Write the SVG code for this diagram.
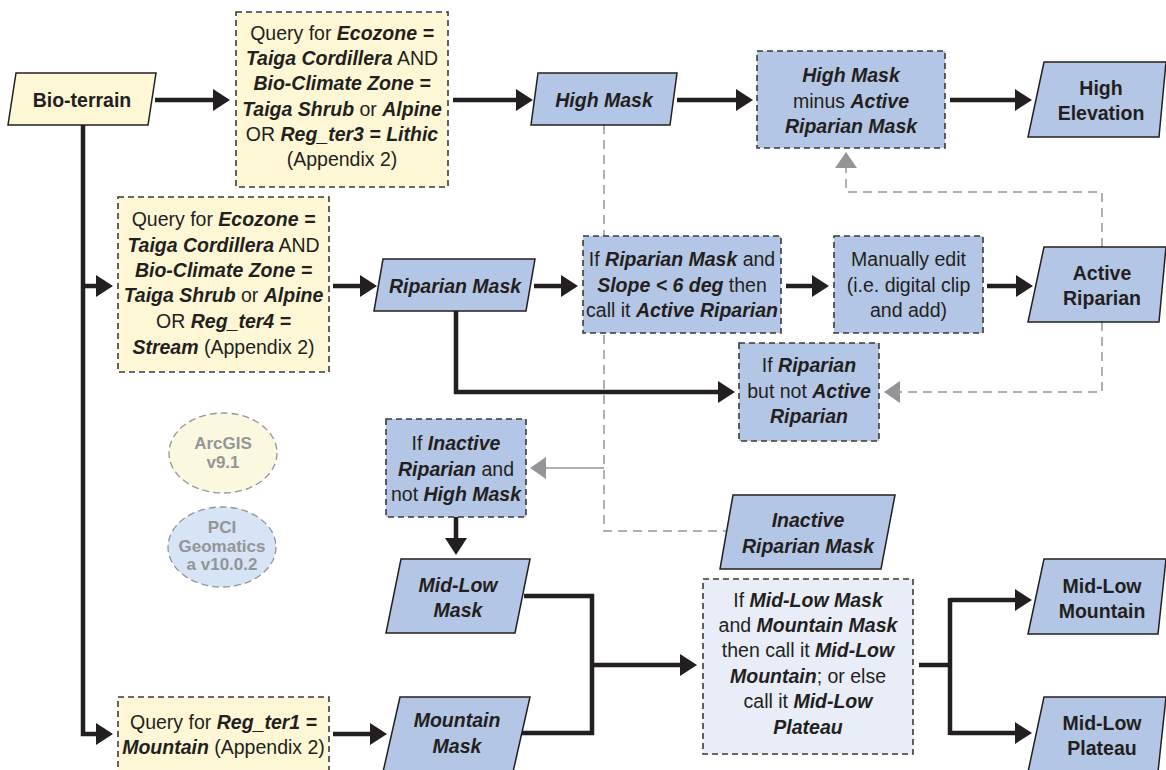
<svg xmlns="http://www.w3.org/2000/svg" width="1166" height="770" viewBox="0 0 1166 770">
<style>
.t{font-family:"Liberation Sans",Arial,sans-serif;font-size:19.5px;fill:#231f20;text-anchor:middle}
.b{font-weight:bold}
.bi{font-weight:bold;font-style:italic}
.par{stroke:#231f20;stroke-width:1.5}
.blue{fill:#b4c6e5}
.yel{fill:#fdf7d5}
.lav{fill:#e8edf7}
.box{stroke:#3a3a3a;stroke-width:1.6;stroke-dasharray:6 4}
.conn{fill:none;stroke:#231f20;stroke-width:4.5;stroke-linejoin:miter}
.gdash{fill:none;stroke:#939598;stroke-width:1.5;stroke-dasharray:9 6}
.gsolid{fill:none;stroke:#939598;stroke-width:1.5}
.leg{font-family:"Liberation Sans",Arial,sans-serif;font-size:17px;font-weight:bold;fill:#939598;text-anchor:middle}
.ell{stroke:#939598;stroke-width:1.3;stroke-dasharray:7 4}
</style>
<defs>
<marker id="ah" markerUnits="userSpaceOnUse" viewBox="0 0 17 22" markerWidth="17" markerHeight="22" refX="2" refY="11" orient="auto"><path d="M0,0 L17,11 L0,22 z" fill="#231f20"/></marker>
<marker id="ag" markerUnits="userSpaceOnUse" viewBox="0 0 16 22" markerWidth="16" markerHeight="22" refX="2" refY="11" orient="auto"><path d="M0,0 L16,11 L0,22 z" fill="#939598"/></marker>
</defs>
<rect width="1166" height="770" fill="#ffffff"/>

<g id="connectors">
<path class="gdash" d="M604,125 V531 H727"/>
<path class="gsolid" d="M604,468 H544" marker-end="url(#ag)"/>
<path class="gdash" d="M1102,322 V392 H898" marker-end="url(#ag)"/>
<path class="gdash" d="M1102,247 V192 H846 V166" marker-end="url(#ag)"/>
<path class="conn" d="M155,100 H215" marker-end="url(#ah)"/>
<path class="conn" d="M453,100 H518" marker-end="url(#ah)"/>
<path class="conn" d="M677,100 H738" marker-end="url(#ah)"/>
<path class="conn" d="M950,100 H1017" marker-end="url(#ah)"/>
<path class="conn" d="M83,125 V734 H98" marker-end="url(#ah)"/>
<path class="conn" d="M83,286 H98" marker-end="url(#ah)"/>
<path class="conn" d="M333,286 H362" marker-end="url(#ah)"/>
<path class="conn" d="M534,286 H563" marker-end="url(#ah)"/>
<path class="conn" d="M786,286 H814" marker-end="url(#ah)"/>
<path class="conn" d="M987,286 H1018" marker-end="url(#ah)"/>
<path class="conn" d="M456,311 V392 H720" marker-end="url(#ah)"/>
<path class="conn" d="M456,517 V540" marker-end="url(#ah)"/>
<path class="conn" d="M333,734 H372" marker-end="url(#ah)"/>
<path class="conn" d="M524,596 H592 V733 H521"/>
<path class="conn" d="M592,665 H682" marker-end="url(#ah)"/>
<path class="conn" d="M919,665 H950"/>
<path class="conn" d="M950,598 V735"/>
<path class="conn" d="M950,600 H1017" marker-end="url(#ah)"/>
<path class="conn" d="M950,733 H1017" marker-end="url(#ah)"/>
</g>

<g id="bio-terrain">
<polygon class="par yel" points="16,73 156,73 148,125 8,125"/>
<text class="t b" x="82" y="107">Bio-terrain</text>
</g>

<g id="query-high">
<rect class="box yel" x="236" y="12" width="212" height="175"/>
<text class="t" x="342" y="40">Query for <tspan class="bi">Ecozone =</tspan></text>
<text class="t" x="342" y="65"><tspan class="bi">Taiga Cordillera</tspan> AND</text>
<text class="t" x="342" y="90"><tspan class="bi">Bio-Climate Zone =</tspan></text>
<text class="t" x="342" y="115.5"><tspan class="bi">Taiga Shrub</tspan> or <tspan class="bi">Alpine</tspan></text>
<text class="t" x="342" y="141">OR <tspan class="bi">Reg_ter3 = Lithic</tspan></text>
<text class="t" x="342" y="166">(Appendix 2)</text>
</g>

<g id="high-mask">
<polygon class="par blue" points="538,73 677,73 670,125 531,125"/>
<text class="t bi" x="604" y="107">High Mask</text>
</g>

<g id="high-minus">
<rect class="box blue" x="757" y="51" width="188" height="97"/>
<text class="t" x="851" y="82"><tspan class="bi">High Mask</tspan></text>
<text class="t" x="851" y="107.5">minus <tspan class="bi">Active</tspan></text>
<text class="t" x="851" y="133"><tspan class="bi">Riparian Mask</tspan></text>
</g>

<g id="high-elevation">
<polygon class="par blue" points="1044,62 1166,62 1159,137 1028,137"/>
<text class="t b" x="1101" y="95">High</text>
<text class="t b" x="1101" y="120">Elevation</text>
</g>

<g id="query-riparian">
<rect class="box yel" x="118" y="197" width="211" height="175"/>
<text class="t" x="223.5" y="226">Query for <tspan class="bi">Ecozone =</tspan></text>
<text class="t" x="223.5" y="252"><tspan class="bi">Taiga Cordillera</tspan> AND</text>
<text class="t" x="223.5" y="277"><tspan class="bi">Bio-Climate Zone =</tspan></text>
<text class="t" x="223.5" y="302"><tspan class="bi">Taiga Shrub</tspan> or <tspan class="bi">Alpine</tspan></text>
<text class="t" x="223.5" y="328">OR <tspan class="bi">Reg_ter4 =</tspan></text>
<text class="t" x="223.5" y="354"><tspan class="bi">Stream</tspan> (Appendix 2)</text>
</g>

<g id="riparian-mask">
<polygon class="par blue" points="383,259 535,259 526,311 374,311"/>
<text class="t bi" x="455" y="293">Riparian Mask</text>
</g>

<g id="if-riparian-slope">
<rect class="box blue" x="583" y="236" width="198" height="97"/>
<text class="t" x="682" y="266">If <tspan class="bi">Riparian Mask</tspan> and</text>
<text class="t" x="682" y="292"><tspan class="bi">Slope &lt; 6 deg</tspan> then</text>
<text class="t" x="682" y="317">call it <tspan class="bi">Active Riparian</tspan></text>
</g>

<g id="manually-edit">
<rect class="box blue" x="834" y="236" width="149" height="97"/>
<text class="t" x="908.5" y="266">Manually edit</text>
<text class="t" x="908.5" y="292">(i.e. digital clip</text>
<text class="t" x="908.5" y="317">and add)</text>
</g>

<g id="active-riparian">
<polygon class="par blue" points="1044,247 1166,247 1159,322 1028,322"/>
<text class="t b" x="1102" y="280">Active</text>
<text class="t b" x="1102" y="305">Riparian</text>
</g>

<g id="if-riparian-not-active">
<rect class="box blue" x="739" y="343" width="140" height="98"/>
<text class="t" x="809" y="372">If <tspan class="bi">Riparian</tspan></text>
<text class="t" x="809" y="398">but not <tspan class="bi">Active</tspan></text>
<text class="t" x="809" y="423"><tspan class="bi">Riparian</tspan></text>
</g>

<g id="legend-arcgis">
<ellipse class="ell" cx="223" cy="453" rx="54" ry="40" fill="#fbf8e0"/>
<text class="leg" x="223" y="449">ArcGIS</text>
<text class="leg" x="223" y="468">v9.1</text>
</g>

<g id="legend-pci">
<ellipse class="ell" cx="222" cy="547" rx="54" ry="40" fill="#d6e4f5"/>
<text class="leg" x="222" y="533">PCI</text>
<text class="leg" x="222" y="552">Geomatics</text>
<text class="leg" x="222" y="570">a v10.0.2</text>
</g>

<g id="if-inactive">
<rect class="box blue" x="386" y="419" width="140" height="98"/>
<text class="t" x="456" y="450">If <tspan class="bi">Inactive</tspan></text>
<text class="t" x="456" y="476"><tspan class="bi">Riparian</tspan> and</text>
<text class="t" x="456" y="501">not <tspan class="bi">High Mask</tspan></text>
</g>

<g id="inactive-riparian-mask">
<polygon class="par blue" points="733,495 895,495 881,569 720,569"/>
<text class="t bi" x="808" y="527">Inactive</text>
<text class="t bi" x="808" y="553">Riparian Mask</text>
</g>

<g id="mid-low-mask">
<polygon class="par blue" points="401,559 530,559 515,633 386,633"/>
<text class="t bi" x="458" y="592">Mid-Low</text>
<text class="t bi" x="458" y="617">Mask</text>
</g>

<g id="query-mountain">
<rect class="box yel" x="118" y="697" width="211" height="74"/>
<text class="t" x="223.5" y="729">Query for <tspan class="bi">Reg_ter1 =</tspan></text>
<text class="t" x="223.5" y="754"><tspan class="bi">Mountain</tspan> (Appendix 2)</text>
</g>

<g id="mountain-mask">
<polygon class="par blue" points="400,697 530,697 513,772 383,772"/>
<text class="t bi" x="457" y="727">Mountain</text>
<text class="t bi" x="457" y="753">Mask</text>
</g>

<g id="decision-mid-low">
<rect class="box lav" x="703" y="579" width="210" height="175"/>
<text class="t" x="808" y="607">If <tspan class="bi">Mid-Low Mask</tspan></text>
<text class="t" x="808" y="632">and <tspan class="bi">Mountain Mask</tspan></text>
<text class="t" x="808" y="657">then call it <tspan class="bi">Mid-Low</tspan></text>
<text class="t" x="808" y="683"><tspan class="bi">Mountain</tspan>; or else</text>
<text class="t" x="808" y="708">call it <tspan class="bi">Mid-Low</tspan></text>
<text class="t" x="808" y="734"><tspan class="bi">Plateau</tspan></text>
</g>

<g id="mid-low-mountain">
<polygon class="par blue" points="1044,559 1166,559 1158,634 1028,634"/>
<text class="t b" x="1102" y="593">Mid-Low</text>
<text class="t b" x="1102" y="618">Mountain</text>
</g>

<g id="mid-low-plateau">
<polygon class="par blue" points="1044,697 1166,697 1158,772 1028,772"/>
<text class="t b" x="1102" y="730">Mid-Low</text>
<text class="t b" x="1102" y="755">Plateau</text>
</g>
</svg>
